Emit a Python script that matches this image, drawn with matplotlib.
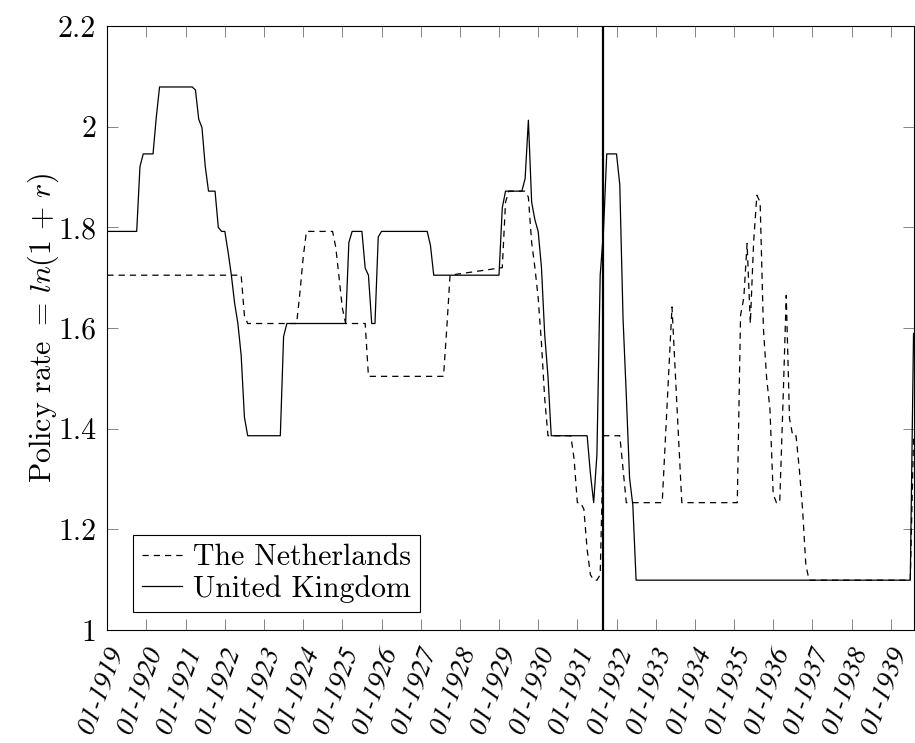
import numpy as np
import matplotlib.pyplot as plt
from matplotlib.transforms import ScaledTranslation

plt.rcParams['font.family'] = 'cmr10'
plt.rcParams['mathtext.fontset'] = 'cm'
plt.rcParams['axes.unicode_minus'] = False
plt.rcParams['axes.formatter.use_mathtext'] = True

# policy rate, ln(1+r) at the corners of each line
nl_dates = ['1919-01', '1922-06', '1922-07', '1922-08', '1923-11', '1923-12',
            '1924-01', '1924-02', '1924-10', '1924-11', '1924-12', '1925-01',
            '1925-02', '1925-08', '1925-09', '1927-08', '1927-09', '1927-10',
            '1929-02', '1929-03', '1929-04', '1929-09', '1929-10', '1929-11',
            '1929-12', '1930-01', '1930-02', '1930-03', '1930-04', '1930-11',
            '1930-12', '1931-01', '1931-02', '1931-03', '1931-04', '1931-05',
            '1931-06', '1931-07', '1931-08', '1931-09', '1932-02', '1932-03',
            '1932-04', '1933-03', '1933-06', '1933-09', '1935-02', '1935-03',
            '1935-04', '1935-05', '1935-06', '1935-07', '1935-08', '1935-09',
            '1935-10', '1935-11', '1935-12', '1936-01', '1936-02', '1936-03',
            '1936-04', '1936-05', '1936-06', '1936-07', '1936-08', '1936-09',
            '1936-10', '1936-11', '1936-12', '1939-07', '1939-08']
nl_values = [1.705, 1.705, 1.625, 1.609, 1.609, 1.67,
             1.74, 1.792, 1.792, 1.76, 1.70, 1.64,
             1.609, 1.609, 1.504, 1.504, 1.60, 1.705,
             1.72, 1.85, 1.872, 1.872, 1.86, 1.77,
             1.72, 1.66, 1.57, 1.46, 1.386, 1.386,
             1.34, 1.253, 1.253, 1.24, 1.16, 1.11,
             1.099, 1.099, 1.11, 1.386, 1.386, 1.32,
             1.253, 1.253, 1.642, 1.253, 1.253, 1.625,
             1.66, 1.768, 1.609, 1.77, 1.864, 1.850,
             1.60, 1.50, 1.44, 1.27, 1.253, 1.253,
             1.45, 1.665, 1.42, 1.386, 1.386, 1.32,
             1.24, 1.13, 1.099, 1.099, 1.38]

uk_dates = ['1919-01', '1919-10', '1919-11', '1919-12', '1920-03', '1920-04',
            '1920-05', '1921-03', '1921-04', '1921-05', '1921-06', '1921-07',
            '1921-08', '1921-10', '1921-11', '1921-12', '1922-01', '1922-02',
            '1922-03', '1922-04', '1922-05', '1922-06', '1922-07', '1922-08',
            '1923-06', '1923-07', '1923-08', '1925-02', '1925-03', '1925-04',
            '1925-07', '1925-08', '1925-09', '1925-10', '1925-11', '1925-12',
            '1926-01', '1927-03', '1927-04', '1927-05', '1929-01', '1929-02',
            '1929-03', '1929-08', '1929-09', '1929-10', '1929-11', '1929-12',
            '1930-01', '1930-02', '1930-03', '1930-04', '1930-05', '1931-04',
            '1931-05', '1931-06', '1931-07', '1931-08', '1931-09', '1931-10',
            '1932-01', '1932-02', '1932-03', '1932-04', '1932-05', '1932-06',
            '1932-07', '1939-07', '1939-08']
uk_values = [1.792, 1.792, 1.921, 1.946, 1.946, 2.019,
             2.079, 2.079, 2.073, 2.015, 1.998, 1.921,
             1.872, 1.872, 1.800, 1.792, 1.792, 1.751,
             1.705, 1.649, 1.609, 1.546, 1.423, 1.386,
             1.386, 1.583, 1.609, 1.609, 1.770, 1.792,
             1.792, 1.719, 1.705, 1.609, 1.609, 1.781,
             1.792, 1.792, 1.764, 1.705, 1.705, 1.839,
             1.872, 1.872, 1.897, 2.013, 1.85, 1.815,
             1.792, 1.721, 1.587, 1.504, 1.386, 1.386,
             1.311, 1.253, 1.349, 1.705, 1.792, 1.946,
             1.946, 1.885, 1.619, 1.466, 1.302, 1.248,
             1.099, 1.099, 1.589]

break_date = '1931-09'
year_ticks = list(range(1919, 1940))
year_labels = ['01-%d' % y for y in year_ticks]
y_ticks = [1, 1.2, 1.4, 1.6, 1.8, 2, 2.2]
y_labels = ['1', '1.2', '1.4', '1.6', '1.8', '2', '2.2']


def to_year(d):
    y, m = d.split('-')
    return int(y) + (int(m) - 1) / 12


nl_x = np.array([to_year(d) for d in nl_dates])
uk_x = np.array([to_year(d) for d in uk_dates])

fs = 21.5
fig = plt.figure(figsize=(9.15, 7.43), dpi=100)
ax = fig.add_axes([0.1173, 0.1521, 0.8811, 0.8128])

ax.plot(nl_x, nl_values, color='black', lw=0.9, dashes=(5, 4),
        label='The Netherlands')
ax.plot(uk_x, uk_values, color='black', lw=0.9, label='United Kingdom')
ax.axvline(to_year(break_date), color='black', lw=1.6)

ax.set_xlim(to_year('1919-01'), to_year('1939-08'))
ax.set_ylim(1, 2.2)

ax.tick_params(direction='in', length=8, width=0.5, top=True, right=True,
               color='#555555')
ax.tick_params(axis='x', pad=6)
ax.tick_params(axis='y', pad=8)

ax.set_yticks(y_ticks)
ax.set_yticklabels(y_labels, fontsize=fs)
ax.set_xticks(year_ticks)
ax.set_xticklabels(year_labels, rotation=70, ha='right', va='center',
                   rotation_mode='anchor', fontstyle='italic',
                   family='STIXGeneral', fontsize=19.5)
# nudge the rotated labels right and down, like the original
# (done after tick_params, which would reset the transform)
shift = ScaledTranslation(10 / 100, -10 / 100, fig.dpi_scale_trans)
for lab in ax.get_xticklabels():
    lab.set_transform(lab.get_transform() + shift)

for s in ax.spines.values():
    s.set_linewidth(0.8)

ax.set_ylabel(r'Policy rate $=\, ln(1\,+\,r)$', fontsize=fs, labelpad=-2)

leg = ax.legend(loc='lower left', bbox_to_anchor=(0.032, 0.03),
                borderaxespad=0, fancybox=False, edgecolor='black',
                framealpha=1, fontsize=fs, handlelength=1.35,
                handletextpad=0.35, borderpad=0.3, labelspacing=0.12)
leg.get_frame().set_linewidth(0.8)

fig.savefig('out.png', dpi=100)
